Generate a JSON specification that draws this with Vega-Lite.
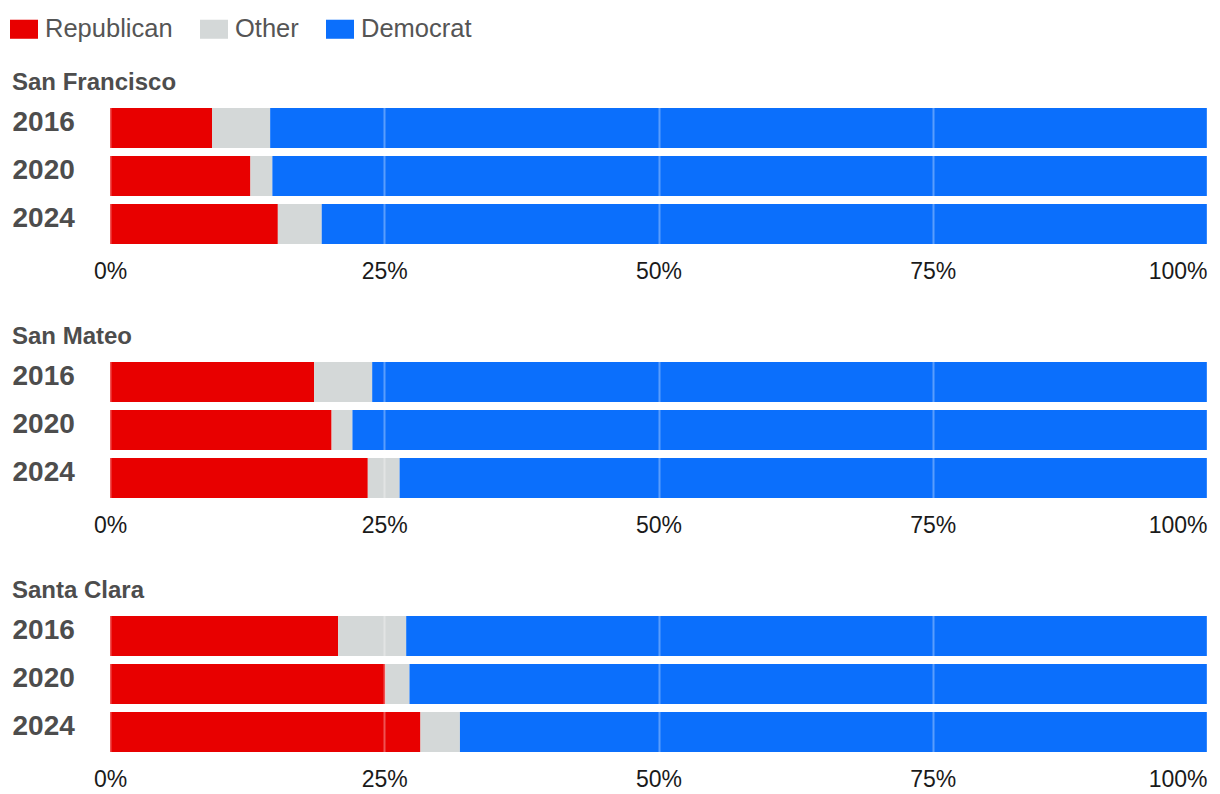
{
  "$schema": "https://vega.github.io/schema/vega-lite/v6.json",
  "padding": {"left": 10, "top": 15, "right": 10, "bottom": 0},
  "background": "white",
  "config": {
    "font": "Liberation Sans",
    "view": {"stroke": null},
    "concat": {"spacing": 42}
  },
  "data": {
    "values": [
      {"county": "San Francisco", "year": "2016", "party": "Republican", "pct": 9.3},
      {"county": "San Francisco", "year": "2016", "party": "Other", "pct": 5.3},
      {"county": "San Francisco", "year": "2016", "party": "Democrat", "pct": 85.4},
      {"county": "San Francisco", "year": "2020", "party": "Republican", "pct": 12.8},
      {"county": "San Francisco", "year": "2020", "party": "Other", "pct": 2.0},
      {"county": "San Francisco", "year": "2020", "party": "Democrat", "pct": 85.2},
      {"county": "San Francisco", "year": "2024", "party": "Republican", "pct": 15.3},
      {"county": "San Francisco", "year": "2024", "party": "Other", "pct": 4.0},
      {"county": "San Francisco", "year": "2024", "party": "Democrat", "pct": 80.7},
      {"county": "San Mateo", "year": "2016", "party": "Republican", "pct": 18.6},
      {"county": "San Mateo", "year": "2016", "party": "Other", "pct": 5.3},
      {"county": "San Mateo", "year": "2016", "party": "Democrat", "pct": 76.1},
      {"county": "San Mateo", "year": "2020", "party": "Republican", "pct": 20.2},
      {"county": "San Mateo", "year": "2020", "party": "Other", "pct": 1.9},
      {"county": "San Mateo", "year": "2020", "party": "Democrat", "pct": 77.9},
      {"county": "San Mateo", "year": "2024", "party": "Republican", "pct": 23.5},
      {"county": "San Mateo", "year": "2024", "party": "Other", "pct": 2.9},
      {"county": "San Mateo", "year": "2024", "party": "Democrat", "pct": 73.6},
      {"county": "Santa Clara", "year": "2016", "party": "Republican", "pct": 20.8},
      {"county": "Santa Clara", "year": "2016", "party": "Other", "pct": 6.2},
      {"county": "Santa Clara", "year": "2016", "party": "Democrat", "pct": 73.0},
      {"county": "Santa Clara", "year": "2020", "party": "Republican", "pct": 25.1},
      {"county": "Santa Clara", "year": "2020", "party": "Other", "pct": 2.2},
      {"county": "Santa Clara", "year": "2020", "party": "Democrat", "pct": 72.7},
      {"county": "Santa Clara", "year": "2024", "party": "Republican", "pct": 28.3},
      {"county": "Santa Clara", "year": "2024", "party": "Other", "pct": 3.6},
      {"county": "Santa Clara", "year": "2024", "party": "Democrat", "pct": 68.1}
    ]
  },
  "vconcat": [
    {
      "title": {"text": "San Francisco", "anchor": "start", "frame": "bounds", "fontSize": 24, "fontWeight": "bold", "color": "#4d4d4d", "baseline": "alphabetic", "offset": -10},
      "transform": [{"filter": "datum.county === 'San Francisco'"}],
      "width": 1097, "height": 144,
      "mark": {"type": "bar"},
      "encoding": {
        "y": {"field": "year", "type": "nominal", "scale": {"paddingInner": 0.1667, "paddingOuter": 0.0833},
              "axis": {"title": null, "ticks": false, "domain": false, "labelAlign": "left", "labelPadding": 98, "labelOffset": -5, "labelFontSize": 28, "labelFontWeight": "bold", "labelColor": "#4d4d4d"}},
        "x": {"field": "pct", "type": "quantitative", "stack": "normalize", "scale": {"domain": [0, 1]},
              "axis": {"title": null, "format": ".0%", "values": [0, 0.25, 0.5, 0.75, 1], "ticks": false, "domain": false, "labelFontSize": 23, "labelColor": "#1a1a1a", "labelPadding": 12, "gridColor": "white", "gridOpacity": 0.32, "gridWidth": 2, "zindex": 1,
                       "labelAlign": {"condition": {"test": "datum.value >= 1", "value": "right"}, "value": "center"}}},
        "order": {"field": "party", "sort": "descending"},
        "color": {"field": "party", "type": "nominal", "sort": ["Republican", "Other", "Democrat"],
                  "scale": {"domain": ["Republican", "Other", "Democrat"], "range": ["#e80000", "#d4d8d8", "#0b6ffc"]},
                  "legend": {"title": null, "orient": "none", "legendX": -100, "legendY": -89, "direction": "horizontal", "symbolType": "M-1,-0.68H1V0.68H-1Z", "symbolSize": 784, "symbolStrokeWidth": 0, "symbolOpacity": 1, "labelFontSize": 25.5, "labelColor": "#555555", "labelOffset": 7, "columnPadding": 27}}
      }
    },
    {
      "title": {"text": "San Mateo", "anchor": "start", "frame": "bounds", "fontSize": 24, "fontWeight": "bold", "color": "#4d4d4d", "baseline": "alphabetic", "offset": -10},
      "transform": [{"filter": "datum.county === 'San Mateo'"}],
      "width": 1097, "height": 144,
      "mark": {"type": "bar"},
      "encoding": {
        "y": {"field": "year", "type": "nominal", "scale": {"paddingInner": 0.1667, "paddingOuter": 0.0833},
              "axis": {"title": null, "ticks": false, "domain": false, "labelAlign": "left", "labelPadding": 98, "labelOffset": -5, "labelFontSize": 28, "labelFontWeight": "bold", "labelColor": "#4d4d4d"}},
        "x": {"field": "pct", "type": "quantitative", "stack": "normalize", "scale": {"domain": [0, 1]},
              "axis": {"title": null, "format": ".0%", "values": [0, 0.25, 0.5, 0.75, 1], "ticks": false, "domain": false, "labelFontSize": 23, "labelColor": "#1a1a1a", "labelPadding": 12, "gridColor": "white", "gridOpacity": 0.32, "gridWidth": 2, "zindex": 1,
                       "labelAlign": {"condition": {"test": "datum.value >= 1", "value": "right"}, "value": "center"}}},
        "order": {"field": "party", "sort": "descending"},
        "color": {"field": "party", "type": "nominal", "sort": ["Republican", "Other", "Democrat"]}
      }
    },
    {
      "title": {"text": "Santa Clara", "anchor": "start", "frame": "bounds", "fontSize": 24, "fontWeight": "bold", "color": "#4d4d4d", "baseline": "alphabetic", "offset": -10},
      "transform": [{"filter": "datum.county === 'Santa Clara'"}],
      "width": 1097, "height": 144,
      "mark": {"type": "bar"},
      "encoding": {
        "y": {"field": "year", "type": "nominal", "scale": {"paddingInner": 0.1667, "paddingOuter": 0.0833},
              "axis": {"title": null, "ticks": false, "domain": false, "labelAlign": "left", "labelPadding": 98, "labelOffset": -5, "labelFontSize": 28, "labelFontWeight": "bold", "labelColor": "#4d4d4d"}},
        "x": {"field": "pct", "type": "quantitative", "stack": "normalize", "scale": {"domain": [0, 1]},
              "axis": {"title": null, "format": ".0%", "values": [0, 0.25, 0.5, 0.75, 1], "ticks": false, "domain": false, "labelFontSize": 23, "labelColor": "#1a1a1a", "labelPadding": 12, "gridColor": "white", "gridOpacity": 0.32, "gridWidth": 2, "zindex": 1,
                       "labelAlign": {"condition": {"test": "datum.value >= 1", "value": "right"}, "value": "center"}}},
        "order": {"field": "party", "sort": "descending"},
        "color": {"field": "party", "type": "nominal", "sort": ["Republican", "Other", "Democrat"]}
      }
    }
  ]
}
